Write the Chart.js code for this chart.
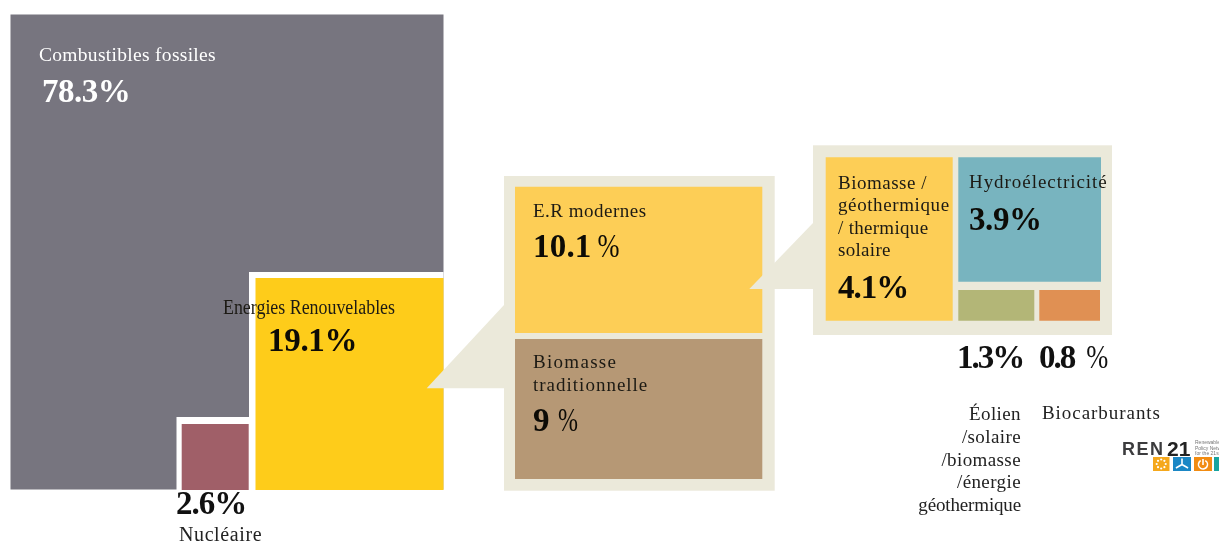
<!DOCTYPE html>
<html lang="fr">
<head>
<meta charset="utf-8">
<title>Part des énergies dans la consommation finale</title>
<script src="https://cdn.jsdelivr.net/npm/chart.js@4/dist/chart.umd.min.js"></script>
<style>
  html, body { margin: 0; padding: 0; background: #fff; }
  canvas { display: block; }
</style>
</head>
<body>
<canvas id="shares" width="1219" height="542"></canvas>
<script>
// Energy sources and their share of final consumption, in percent.
const sources = [
  'Combustibles fossiles', 'Nucléaire', 'Energies Renouvelables',
  'E.R modernes', 'Biomasse traditionnelle',
  'Biomasse / géothermique / thermique solaire', 'Hydroélectricité',
  'Éolien /solaire /biomasse /énergie géothermique', 'Biocarburants'
];
const shares = [78.3, 2.6, 19.1, 10.1, 9, 4.1, 3.9, 1.3, 0.8];

// Box of each source on the page, same order as the lists above.
const boxes = [
  { left: 10.5,  right: 443.5,  top: 14.5,  bottom: 489.5, color: '#77757f' },
  { left: 181.7, right: 248.7,  top: 424,   bottom: 490,   color: '#a05f68' },
  { left: 255.5, right: 443.5,  top: 278,   bottom: 490,   color: '#fecc1a' },
  { left: 515,   right: 762.3,  top: 186.7, bottom: 333,   color: '#fdce56' },
  { left: 515,   right: 762.3,  top: 339,   bottom: 479,   color: '#b69875' },
  { left: 825.7, right: 952.7,  top: 157.3, bottom: 320.7, color: '#fdce56' },
  { left: 958.3, right: 1101,   top: 157.3, bottom: 281.7, color: '#78b4bf' },
  { left: 958.3, right: 1034.3, top: 290,   bottom: 320.7, color: '#b3b677' },
  { left: 1039.3, right: 1100,  top: 290,   bottom: 320.7, color: '#e09053' }
];

const PAGE_W = 1219, PAGE_H = 542;
const FRAME = '#ffffff', PANEL = '#ebe9da';
const SERIF = '"Liberation Serif", "Times New Roman", serif';

// Every box gets its own hidden value axis, so a bar from 0 to its share lands on the box.
const scales = {
  x: { type: 'linear', display: false, offset: false, min: 0, max: PAGE_W, bounds: 'data' }
};
boxes.forEach((b, i) => {
  const perPixel = shares[i] / (b.bottom - b.top);
  const min = -(PAGE_H - b.bottom) * perPixel;
  scales['y' + i] = { type: 'linear', display: false, bounds: 'data', min, max: min + PAGE_H * perPixel };
});

const datasets = sources.map((name, i) => ({
  label: name,
  data: [{ x: (boxes[i].left + boxes[i].right) / 2, y: shares[i] }],
  yAxisID: 'y' + i,
  backgroundColor: boxes[i].color,
  borderWidth: 0,
  inflateAmount: 0,
  grouped: false,
  barPercentage: 1000,
  maxBarThickness: boxes[i].right - boxes[i].left,
  order: sources.length - i
}));

function block(ctx, color, l, t, r, b) {
  ctx.fillStyle = color;
  ctx.fillRect(l, t, r - l, b - t);
}
function wedge(ctx, color, pts) {
  ctx.fillStyle = color;
  ctx.beginPath();
  pts.forEach((p, i) => i ? ctx.lineTo(p[0], p[1]) : ctx.moveTo(p[0], p[1]));
  ctx.closePath();
  ctx.fill();
}

// Frames and call-out panels sit between the bars, so they hook on the bar drawn just before.
const backdrops = {
  id: 'backdrops',
  afterDatasetDraw(chart, args) {
    const ctx = chart.ctx;
    ctx.save();
    if (args.index === 0) {
      block(ctx, FRAME, 249, 272, 443.5, 490);
      block(ctx, FRAME, 176.5, 417, 249, 490);
    }
    if (args.index === 2) {
      wedge(ctx, PANEL, [[426.7, 388.3], [504, 305], [504, 388.3]]);
      block(ctx, PANEL, 504, 176, 774.7, 490.7);
    }
    if (args.index === 4) {
      wedge(ctx, PANEL, [[749.3, 289], [813, 223], [813, 289]]);
      block(ctx, PANEL, 813, 145.3, 1112, 335);
    }
    ctx.restore();
  }
};

// Names: text, left or right anchor, baseline, size, letter spacing, optional fit to a width.
const nameLabels = [
  { t: 'Combustibles fossiles', x: 39, y: 61, s: 19.5, c: '#ffffff', sp: 0.3 },
  { t: 'Energies Renouvelables', x: 223, y: 314, s: 20, c: '#1c1a14', w: 172 },
  { t: 'Nucléaire', x: 179, y: 541, s: 20, c: '#222', sp: 0.6 },
  { t: 'E.R modernes', x: 533, y: 217, s: 19, c: '#1c1a14', sp: 0.5 },
  { t: 'Biomasse', x: 533, y: 368, s: 19, c: '#1c1a14', sp: 1.3 },
  { t: 'traditionnelle', x: 533, y: 391, s: 19, c: '#1c1a14', sp: 1 },
  { t: 'Biomasse /', x: 838, y: 189, s: 19, c: '#1c1a14', sp: 0.5 },
  { t: 'géothermique', x: 838, y: 211, s: 19, c: '#1c1a14', sp: 0.6 },
  { t: '/ thermique', x: 838, y: 234, s: 19, c: '#1c1a14', sp: 0.3 },
  { t: 'solaire', x: 838, y: 256, s: 19, c: '#1c1a14', sp: 0.3 },
  { t: 'Hydroélectricité', x: 969, y: 188, s: 19, c: '#1c1a14', sp: 0.95 },
  { t: 'Éolien', x: 1021, y: 420, s: 19, c: '#222', right: true, sp: 0.4 },
  { t: '/solaire', x: 1021, y: 443, s: 19, c: '#222', right: true, sp: 0.4 },
  { t: '/biomasse', x: 1021, y: 466, s: 19, c: '#222', right: true, sp: 0.4 },
  { t: '/énergie', x: 1021, y: 488, s: 19, c: '#222', right: true, sp: 0.4 },
  { t: 'géothermique', x: 1021, y: 511, s: 19, c: '#222', right: true, sp: -0.15 },
  { t: 'Biocarburants', x: 1042, y: 419, s: 19, c: '#222', sp: 0.95 }
];

// Share figures, indexed into the shares list; "gap" puts a light % sign after the number.
const shareLabels = [
  { i: 0, x: 42, y: 102, c: '#ffffff', sp: -0.5 },
  { i: 2, x: 268, y: 351, c: '#0d0b06', sp: -0.3 },
  { i: 1, x: 176, y: 514, c: '#111', sp: -1 },
  { i: 3, x: 533, y: 257, c: '#0d0b06', gap: 6, sp: 0.2, pct: 22 },
  { i: 4, x: 533, y: 431, c: '#0d0b06', gap: 8.5, pct: 20 },
  { i: 5, x: 838, y: 298, c: '#0d0b06', sp: -1 },
  { i: 6, x: 969, y: 230, c: '#0d0b06', sp: -0.4 },
  { i: 7, x: 957, y: 368, c: '#111', sp: -2 },
  { i: 8, x: 1039, y: 368, c: '#111', gap: 12, sp: -2, pct: 22 }
];

function drawSource(ctx) {
  ctx.textBaseline = 'alphabetic';
  nameLabels.forEach(l => {
    ctx.font = l.s + 'px ' + SERIF;
    ctx.letterSpacing = (l.sp || 0) + 'px';
    ctx.fillStyle = l.c;
    ctx.textAlign = l.right ? 'right' : 'left';
    if (l.w) ctx.fillText(l.t, l.x, l.y, l.w); else ctx.fillText(l.t, l.x, l.y);
  });
  ctx.textAlign = 'left';
  shareLabels.forEach(l => {
    const num = String(shares[l.i]);
    ctx.fillStyle = l.c;
    ctx.font = 'bold 33px ' + SERIF;
    ctx.letterSpacing = (l.sp || 0) + 'px';
    if (l.gap === undefined) {
      ctx.fillText(num + '%', l.x, l.y);
    } else {
      ctx.fillText(num, l.x, l.y);
      const w = ctx.measureText(num).width;
      ctx.font = '33px ' + SERIF;
      ctx.letterSpacing = '0px';
      ctx.fillText('%', l.x + w + l.gap, l.y, l.pct);
    }
  });
  ctx.letterSpacing = '0px';
}

// REN21 mark in the lower right corner.
function drawMark(ctx) {
  ctx.fillStyle = '#3c3c3e';
  ctx.font = 'bold 18px "Liberation Sans", Arial, sans-serif';
  ctx.letterSpacing = '1.5px';
  ctx.fillText('REN', 1122, 455);
  ctx.letterSpacing = '0px';
  ctx.fillStyle = '#222';
  ctx.font = 'bold 21px "Liberation Sans", Arial, sans-serif';
  ctx.fillText('21', 1167, 455.5);
  ctx.fillStyle = '#777';
  ctx.font = '5px "Liberation Sans", Arial, sans-serif';
  ctx.fillText('Renewable Energy', 1195, 444);
  ctx.fillText('Policy Network', 1195, 449.5);
  ctx.fillText('for the 21st', 1195, 455);

  block(ctx, '#f5a81c', 1153, 457, 1169.5, 471);
  block(ctx, '#1b87c5', 1173, 457, 1191, 471);
  block(ctx, '#f28c12', 1194, 457, 1212, 471);
  block(ctx, '#17a4a0', 1214, 457, 1219, 471);

  ctx.fillStyle = '#fff';
  for (let k = 0; k < 8; k++) {
    const a = k * Math.PI / 4;
    ctx.beginPath();
    ctx.arc(1161.2 + 4.5 * Math.cos(a), 464 + 4.5 * Math.sin(a), 1.1, 0, 2 * Math.PI);
    ctx.fill();
  }
  ctx.strokeStyle = '#fff';
  ctx.lineWidth = 1.6;
  [[-Math.PI / 2, 6], [Math.PI / 6, 7], [5 * Math.PI / 6, 7]].forEach(([a, len]) => {
    ctx.beginPath();
    ctx.moveTo(1182, 464.5);
    ctx.lineTo(1182 + len * Math.cos(a), 464.5 + len * Math.sin(a));
    ctx.stroke();
  });
  ctx.beginPath();
  ctx.arc(1203, 464.5, 4.5, -Math.PI / 3, 4 * Math.PI / 3);
  ctx.stroke();
  ctx.beginPath();
  ctx.moveTo(1203, 459);
  ctx.lineTo(1203, 465);
  ctx.stroke();
}

const annotations = {
  id: 'annotations',
  afterDraw(chart) {
    const ctx = chart.ctx;
    ctx.save();
    drawSource(ctx);
    drawMark(ctx);
    ctx.restore();
  }
};

new Chart(document.getElementById('shares'), {
  type: 'bar',
  data: { datasets },
  options: {
    responsive: false,
    animation: false,
    layout: { padding: 0 },
    scales,
    plugins: { legend: { display: false }, tooltip: { enabled: false }, title: { display: false } }
  },
  plugins: [backdrops, annotations]
});
</script>
</body>
</html>
